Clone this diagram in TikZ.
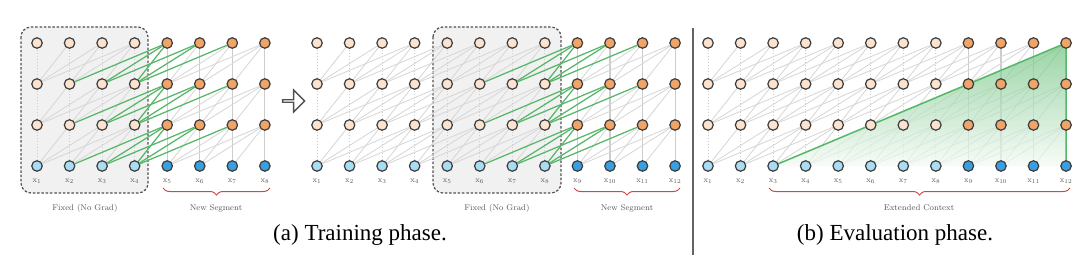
\documentclass[tikz,border=0pt]{standalone}
\usepackage{fontspec}
\newfontfamily\capfont{Liberation Serif}
\usetikzlibrary{decorations.pathreplacing,shapes.arrows}
\definecolor{peach}{HTML}{FCE3CF}
\definecolor{orng}{HTML}{F0A466}
\definecolor{lblue}{HTML}{A9DDF3}
\definecolor{dblue}{HTML}{3A9FE0}
\definecolor{ndline}{HTML}{3C3C3C}
\definecolor{edgegray}{HTML}{D6D6D6}
\definecolor{vgray}{HTML}{CDCDCD}
\definecolor{mygreen}{HTML}{55B868}
\definecolor{bracered}{HTML}{CC4A4A}
\definecolor{lblgray}{HTML}{5A5A5A}
\definecolor{boxfill}{HTML}{F1F1F1}
\pgfdeclarelayer{back}
\pgfdeclarelayer{edges}
\pgfdeclarelayer{greens}
\pgfsetlayers{back,edges,greens,main}
\tikzset{
  nd/.style={circle, draw=ndline, line width=1.2pt, minimum size=10.5pt, inner sep=0pt},
  gedge/.style={edgegray, line width=0.8pt},
  grn/.style={mygreen, line width=1.2pt},
  vfix/.style={vgray, line width=0.8pt, dash pattern=on 1.5pt off 1.5pt},
  vnew/.style={vgray, line width=1.1pt},
  xl/.style={font=\fontsize{8}{9}\selectfont, text=lblgray, inner sep=0pt},
  lbl/.style={font=\fontsize{8.3}{10}\selectfont, text=lblgray, inner sep=0pt},
  fixbox/.style={draw=ndline!90, line width=1.2pt, dash pattern=on 2.5pt off 1.8pt, fill=boxfill, rounded corners=10pt},
  redbrace/.style={draw=bracered, line width=1pt, decorate, decoration={brace, mirror, amplitude=7pt}},
  caption/.style={font=\capfont\fontsize{23}{27}\selectfont, anchor=base, inner sep=0pt},
}
% #1 prefix, #2 x of first column, #3 number of columns, #4 first new column, #5 first fixed column
\newcommand{\mypanel}[5]{%
  \foreach \i in {1,...,#3}{%
    \foreach \l in {0,1,2,3}{%
      \ifnum\l=0\relax
        \ifnum\i<#4\relax\def\fc{lblue}\else\def\fc{dblue}\fi
      \else
        \ifnum\i<#4\relax\def\fc{peach}\else\def\fc{orng}\fi
      \fi
      \node[nd, fill=\fc] (#1-\i-\l) at ({#2+(\i-1)*32.55},{166-41*\l}) {};
    }
    \node[xl] (#1-lab-\i) at ({#2+(\i-1)*32.55},181) {$\mathrm{x}_{\i}$};
  }
  \begin{pgfonlayer}{edges}
  \foreach \i in {1,...,#3}{%
    \foreach \l in {1,2,3}{%
      \pgfmathtruncatemacro\lm{\l-1}
      \ifnum\i<#4\relax
        \draw[vfix] (#1-\i-\lm) -- (#1-\i-\l);
      \else
        \draw[vnew] (#1-\i-\lm) -- (#1-\i-\l);
      \fi
      \foreach \d in {1,2,3}{%
        \pgfmathtruncatemacro\j{\i-\d}
        \ifnum\j>0\relax
          \draw[gedge] (#1-\j-\lm) -- (#1-\i-\l);
        \fi
      }
    }
  }
  \end{pgfonlayer}
  \begin{pgfonlayer}{greens}
  \foreach \i in {1,...,#3}{%
    \foreach \l in {1,2,3}{%
      \pgfmathtruncatemacro\lm{\l-1}
      \foreach \d in {1,2,3}{%
        \pgfmathtruncatemacro\j{\i-\d}
        \ifnum\j>0\relax
        \ifnum\i>\numexpr#4-1\relax
        \ifnum\j<#4\relax
        \ifnum\j>\numexpr#5-1\relax
          \draw[grn] (#1-\j-\lm) -- (#1-\i-\l);
        \fi\fi\fi\fi
      }
    }
  }
  \end{pgfonlayer}
}
\begin{document}
\begin{tikzpicture}[x=1pt,y=-1pt]
\useasboundingbox (0,0) rectangle (1080,262);

% boxes
\begin{pgfonlayer}{back}
\fill[white] (0,0) rectangle (1080,262);
\draw[fixbox] (21,27) rectangle (148,193);
\draw[fixbox] (433,27) rectangle (561,193);
\end{pgfonlayer}

\mypanel{L}{37}{8}{5}{1}
\mypanel{M}{317}{12}{9}{5}
\mypanel{R}{708}{12}{9}{99}

% extended context triangle
\begin{pgfonlayer}{greens}
\shade[top color=mygreen!85, bottom color=mygreen!6, fill opacity=0.7]
  (R-3-0.center) -- (R-12-3.center) -- (R-12-0.center) -- cycle;
\draw[mygreen, line width=1.5pt] (R-3-0.center) -- (R-12-3.center) -- (R-12-0.center);
\end{pgfonlayer}

% arrow
\node[single arrow, draw=ndline!90, fill=white, line width=1.3pt, minimum height=22pt,
  minimum width=22pt, single arrow head extend=5pt, inner sep=0pt] (arr) at (293,101) {};

% separator
\draw[ndline!80, line width=1.3pt] (693,28) -- (693,255);

% braces
\draw[redbrace] (163,188) -- (270,188);
\draw[redbrace] (574,188) -- (680,188);
\draw[redbrace] (769,188) -- (1070,188);

% labels
\node[lbl] (fixL) at (85,208) {Fixed (No Grad)};
\node[lbl] (newL) at (216,208) {New Segment};
\node[lbl] (fixM) at (497,208) {Fixed (No Grad)};
\node[lbl] (newM) at (627,208) {New Segment};
\node[lbl] (ext) at (919,208) {Extended Context};

% captions
\node[caption] (capa) at (360,240) {(a) Training phase.};
\node[caption] (capb) at (895,240) {(b) Evaluation phase.};
\end{tikzpicture}
\end{document}
